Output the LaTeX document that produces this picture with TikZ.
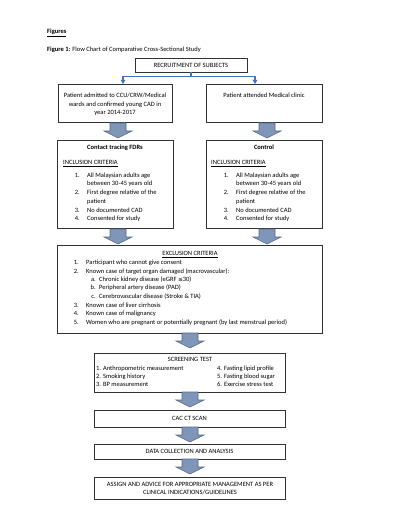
\documentclass[tikz,border=0pt]{standalone}
\usepackage{fontspec}
\setmainfont{Carlito}
\usetikzlibrary{arrows.meta}
\definecolor{linkblue}{HTML}{4472C4}
\definecolor{arrowfill}{HTML}{7F96B8}
\definecolor{arrowdraw}{HTML}{55698A}
\definecolor{boxline}{HTML}{333333}
\begin{document}
\begin{tikzpicture}[x=1pt,y=-1pt,
  every node/.style={font=\fontsize{6.5}{8.4}\selectfont, inner sep=0pt},
  box/.style={draw=boxline, line width=0.7pt, fill=white},
  txt/.style={anchor=mid west},
  ctxt/.style={anchor=mid},
  num/.style={anchor=mid east},
  blueline/.style={draw=linkblue, line width=1.3pt},
  barrow/.pic={\draw[fill=arrowfill, draw=arrowdraw, line width=0.6pt]
     (-8,0) -- (-8,8) -- (-14,8) -- (0,15) -- (14,8) -- (8,8) -- (8,0) -- cycle;}
]
\useasboundingbox[fill=white] (0,0) rectangle (400,518);

% headings
\node[txt] (hfig) at (47,31) {\textbf{\underline{Figures}}};
\node[txt] (hcap) at (47,49) {\textbf{Figure 1:} Flow Chart of Comparative Cross-Sectional Study};

% recruitment
\node[box, minimum width=112, minimum height=14] (rec) at (191,65) {RECRUITMENT OF SUBJECTS};

% first row boxes
\node[box, minimum width=114, minimum height=38] (pl) at (115,103) {};
\node[box, minimum width=116, minimum height=38] (pr) at (264,103) {};
\node[ctxt] (plt1) at (115,95) {Patient admitted to CCU/CRW/Medical};
\node[ctxt] (plt2) at (115,104) {wards and confirmed young CAD in};
\node[ctxt] (plt3) at (115,112) {year 2014-2017};
\node[ctxt] (prt1) at (264,95) {Patient attended Medical clinic};

\coordinate (plin) at (123,84);
\coordinate (prin) at (255,84);
\draw[blueline, -{Triangle[length=4pt,width=4.5pt]}] (rec.south) -- ++(0,4) -| (plin);
\draw[blueline, -{Triangle[length=4pt,width=4.5pt]}] (rec.south) -- ++(0,4) -| (prin);

% block arrows row 1
\coordinate (a1l) at (118,123);
\coordinate (a1r) at (267,123);
\pic at (a1l) {barrow};
\pic at (a1r) {barrow};

% inclusion boxes
\node[box, minimum width=116, minimum height=88] (il) at (115,184) {};
\node[box, minimum width=116, minimum height=88] (ir) at (264,184) {};

\node[ctxt] (ilh) at (115,147) {\textbf{Contact tracing FDRs}};
\node[txt] (ilc) at (63,162) {\underline{INCLUSION CRITERIA}};
\node[num] (il1) at (80,175) {1.};
\node[txt] (il1t) at (87,175) {All Malaysian adults age};
\node[txt] (il1u) at (87,183) {between 30-45 years old};
\node[num] (il2) at (80,192) {2.};
\node[txt] (il2t) at (87,192) {First degree relative of the};
\node[txt] (il2u) at (87,201) {patient};
\node[num] (il3) at (80,210) {3.};
\node[txt] (il3t) at (87,210) {No documented CAD};
\node[num] (il4) at (80,218) {4.};
\node[txt] (il4t) at (87,218) {Consented for study};

\node[ctxt] (irh) at (264,147) {\textbf{Control}};
\node[txt] (irc) at (211,162) {\underline{INCLUSION CRITERIA}};
\node[num] (ir1) at (229,175) {1.};
\node[txt] (ir1t) at (236,175) {All Malaysian adults age};
\node[txt] (ir1u) at (236,183) {between 30-45 years old};
\node[num] (ir2) at (229,192) {2.};
\node[txt] (ir2t) at (236,192) {First degree relative of the};
\node[txt] (ir2u) at (236,201) {patient};
\node[num] (ir3) at (229,210) {3.};
\node[txt] (ir3t) at (236,210) {No documented CAD};
\node[num] (ir4) at (229,218) {4.};
\node[txt] (ir4t) at (236,218) {Consented for study};

% block arrows row 2
\coordinate (a2l) at (118,229);
\coordinate (a2r) at (267,229);
\pic at (a2l) {barrow};
\pic at (a2r) {barrow};

% exclusion box
\node[box, minimum width=265, minimum height=88] (ex) at (189.5,289) {};
\node[ctxt] (exh) at (190,253) {\underline{EXCLUSION CRITERIA}};
\node[num] (ex1) at (79,262) {1.};
\node[txt] (ex1t) at (86,262) {Participant who cannot give consent};
\node[num] (ex2) at (79,271) {2.};
\node[txt] (ex2t) at (86,271) {Known case of target organ damaged (macrovascular):};
\node[num] (exa) at (96,279) {a.};
\node[txt] (exat) at (99,279) {Chronic kidney disease (eGRF \fontspec{DejaVu Sans}\fontsize{5.8}{8.4}\selectfont≤\fontspec{Carlito}\fontsize{6.5}{8.4}\selectfont30)};
\node[num] (exb) at (96,287) {b.};
\node[txt] (exbt) at (99,287) {Peripheral artery disease (PAD)};
\node[num] (exc) at (96,296) {c.};
\node[txt] (exct) at (99,296) {Cerebrovascular disease (Stroke \& TIA)};
\node[num] (ex3) at (79,305) {3.};
\node[txt] (ex3t) at (86,305) {Known case of liver cirrhosis};
\node[num] (ex4) at (79,313) {4.};
\node[txt] (ex4t) at (86,313) {Known case of malignancy};
\node[num] (ex5) at (79,322) {5.};
\node[txt] (ex5t) at (86,322) {Women who are pregnant or potentially pregnant (by last menstrual period)};

% block arrow 3
\coordinate (a3) at (190,333);
\pic at (a3) {barrow};

% screening
\node[box, minimum width=191, minimum height=39] (sc) at (189.5,372.5) {};
\node[ctxt] (sch) at (190,359) {SCREENING TEST};
\node[txt] (sc1) at (96,368) {1. Anthropometric measurement};
\node[txt] (sc2) at (96,376) {2. Smoking history};
\node[txt] (sc3) at (96,384) {3. BP measurement};
\node[txt] (sc4) at (217,368) {4. Fasting lipid profile};
\node[txt] (sc5) at (217,376) {5. Fasting blood sugar};
\node[txt] (sc6) at (217,384) {6. Exercise stress test};

\coordinate (a4) at (190,392);
\pic at (a4) {barrow};

\node[box, minimum width=191, minimum height=17] (cac) at (189.5,418.5) {CAC CT SCAN};

\coordinate (a5) at (190,427);
\pic at (a5) {barrow};

\node[box, minimum width=191, minimum height=15] (dca) at (189.5,451.5) {DATA COLLECTION AND ANALYSIS};

\coordinate (a6) at (190,459);
\pic at (a6) {barrow};

\node[box, minimum width=191, minimum height=22] (asg) at (189.5,488) {};
\node[ctxt] (asg1) at (190,484) {ASSIGN AND ADVICE FOR APPROPRIATE MANAGEMENT AS PER};
\node[ctxt] (asg2) at (190,492) {CLINICAL INDICATIONS/GUIDELINES};
\end{tikzpicture}
\end{document}
